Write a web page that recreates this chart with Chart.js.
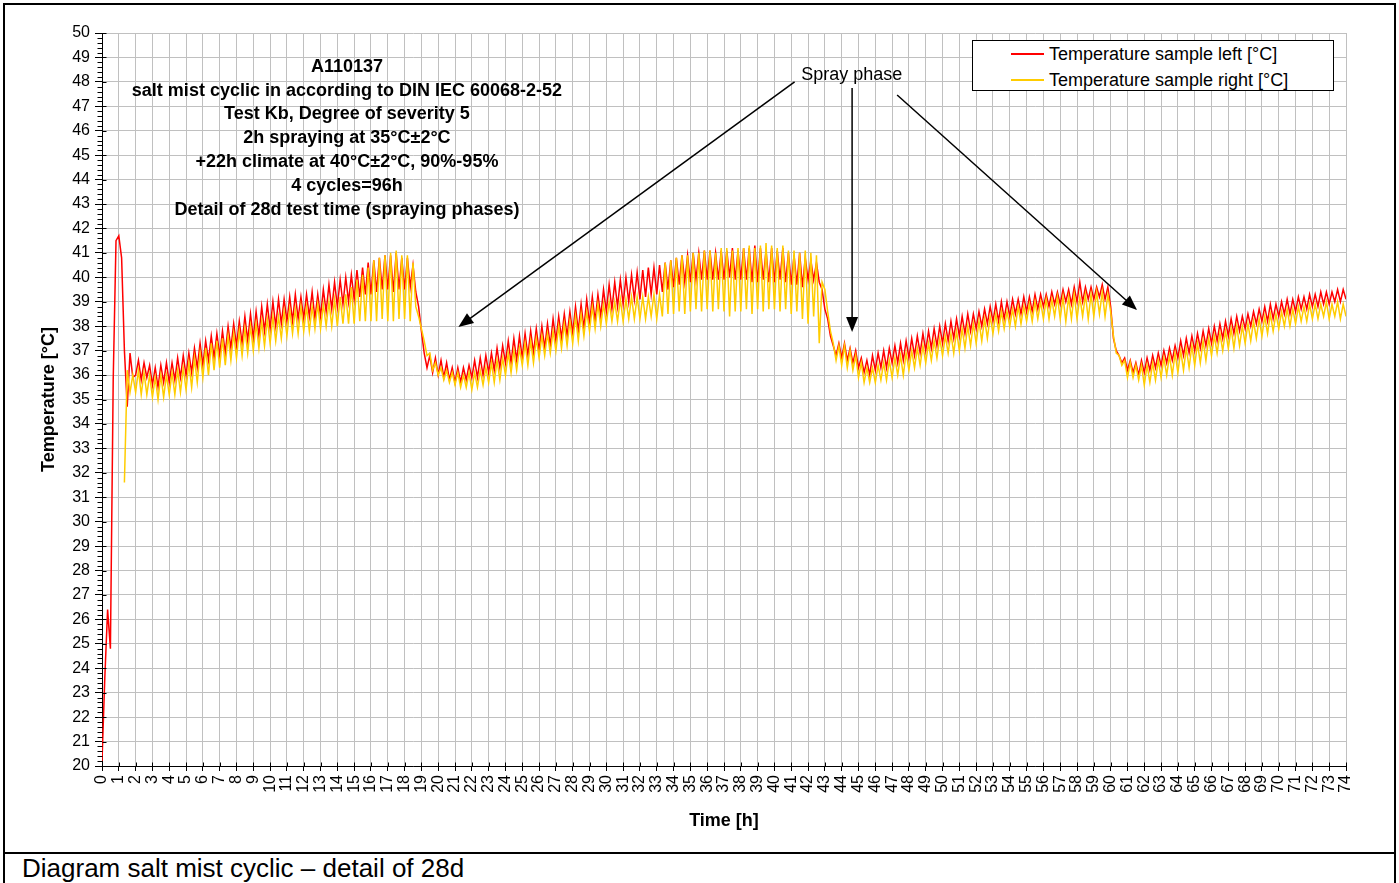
<!DOCTYPE html>
<html>
<head>
<meta charset="utf-8">
<title>Diagram salt mist cyclic – detail of 28d</title>
<script src="https://cdn.jsdelivr.net/npm/chart.js@4.4.1/dist/chart.umd.min.js"></script>
<style>
  html, body { margin: 0; padding: 0; background: #fff; }
  body { width: 1399px; height: 883px; position: relative; overflow: hidden;
         font-family: 'Liberation Sans', Arial, sans-serif; color: #000; }
  #myChart { position: absolute; left: 0; top: 0; }
  .frame { position: absolute; background: #000; z-index: 2; }
  #legend { position: absolute; left: 972px; top: 40px; width: 360px; height: 49px;
            border: 1px solid #000; background: #fff; z-index: 3; font-size: 18px; }
  #legend .row { position: absolute; left: 0; height: 22px; line-height: 22px; white-space: nowrap; }
  #legend .swatch { position: absolute; left: 38px; top: 10px; width: 33px; height: 1.5px; }
  #legend .lbl { position: absolute; left: 76px; top: 0; }
  #caption { position: absolute; left: 22px; top: 853px; font-size: 26px; line-height: 30px; white-space: nowrap; }
</style>
</head>
<body>
<canvas id="myChart" width="1399" height="853"></canvas>
<div class="frame" style="left:3px;top:3px;width:1393px;height:2px"></div>
<div class="frame" style="left:3px;top:3px;width:2px;height:880px"></div>
<div class="frame" style="left:1394px;top:3px;width:2px;height:880px"></div>
<div class="frame" style="left:3px;top:852px;width:1393px;height:2px"></div>
<div id="legend"></div>
<div id="caption">Diagram salt mist cyclic – detail of 28d</div>
<script>
// logger readings every 10 minutes, one line per hour (h0 ... h73, then h74)
const SAMPLES_PER_HOUR = 6;

const tempLeft = [
  20.2, 23.6, 26.4, 24.8, 35.8, 41.5,
  41.7, 40.8, 37.0, 34.7, 36.9, 35.9,
  36.0, 36.6, 35.8, 36.5, 35.9, 36.4,
  35.6, 36.3, 35.5, 36.4, 35.7, 36.5,
  35.7, 36.5, 35.8, 36.7, 35.9, 36.8,
  36.0, 36.9, 36.1, 37.1, 36.3, 37.3,
  36.4, 37.4, 36.6, 37.6, 36.7, 37.7,
  36.8, 37.8, 36.9, 38.0, 37.1, 38.1,
  37.2, 38.2, 37.3, 38.4, 37.4, 38.5,
  37.5, 38.6, 37.6, 38.8, 37.8, 38.9,
  37.9, 39.0, 38.0, 39.1, 38.1, 39.1,
  38.2, 39.2, 38.2, 39.3, 38.3, 39.2,
  38.3, 39.3, 38.4, 39.4, 38.3, 39.3,
  38.4, 39.5, 38.6, 39.7, 38.7, 39.8,
  38.8, 39.9, 38.9, 40.0, 39.0, 40.1,
  39.1, 40.3, 39.2, 40.4, 39.3, 40.6,
  39.3, 40.7, 39.4, 40.8, 39.5, 40.9,
  39.5, 40.9, 39.4, 41.0, 39.5, 40.8,
  39.5, 40.8, 39.6, 40.5, 39.4, 38.8,
  37.8, 36.9, 36.3, 36.8, 36.1, 36.7,
  36.0, 36.6, 35.9, 36.5, 35.8, 36.3,
  35.7, 36.3, 35.7, 36.3, 35.8, 36.4,
  35.9, 36.6, 35.9, 36.7, 36.0, 36.8,
  36.1, 36.9, 36.2, 37.1, 36.3, 37.2,
  36.5, 37.4, 36.5, 37.5, 36.6, 37.6,
  36.7, 37.7, 36.8, 37.8, 36.9, 37.9,
  37.0, 38.0, 37.1, 38.1, 37.2, 38.3,
  37.4, 38.4, 37.5, 38.5, 37.6, 38.6,
  37.7, 38.8, 37.8, 38.9, 37.9, 39.1,
  38.1, 39.2, 38.2, 39.3, 38.4, 39.5,
  38.6, 39.7, 38.7, 39.8, 38.8, 39.9,
  38.9, 40.0, 39.0, 40.1, 39.1, 40.2,
  39.1, 40.3, 39.2, 40.4, 39.3, 40.4,
  39.3, 40.5, 39.4, 40.6, 39.5, 40.7,
  39.6, 40.8, 39.7, 40.9, 39.8, 40.9,
  39.8, 41.0, 39.9, 41.0, 39.9, 41.1,
  39.9, 41.1, 39.9, 41.0, 39.9, 41.1,
  39.9, 41.1, 40.0, 41.2, 39.9, 41.1,
  39.9, 41.2, 39.9, 41.2, 39.8, 41.3,
  39.8, 41.2, 39.9, 41.1, 39.8, 41.2,
  39.8, 41.1, 39.9, 41.2, 39.8, 41.0,
  39.7, 40.9, 39.7, 41.0, 39.6, 40.8,
  39.9, 40.7, 39.9, 40.6, 39.8, 39.5,
  38.7, 38.3, 37.6, 37.2, 36.8, 37.3,
  36.7, 37.3, 36.6, 37.1, 36.5, 37.0,
  36.3, 36.7, 36.1, 36.6, 36.0, 36.8,
  36.2, 36.9, 36.3, 37.0, 36.3, 37.1,
  36.5, 37.2, 36.5, 37.3, 36.6, 37.4,
  36.7, 37.5, 36.8, 37.6, 36.9, 37.7,
  37.0, 37.8, 37.1, 37.9, 37.2, 38.0,
  37.3, 38.1, 37.4, 38.2, 37.5, 38.3,
  37.6, 38.4, 37.7, 38.5, 37.8, 38.5,
  37.9, 38.6, 38.0, 38.7, 38.1, 38.8,
  38.2, 38.9, 38.2, 39.0, 38.3, 39.0,
  38.4, 39.1, 38.5, 39.1, 38.5, 39.2,
  38.6, 39.2, 38.6, 39.3, 38.7, 39.3,
  38.8, 39.3, 38.8, 39.4, 38.9, 39.4,
  38.9, 39.5, 39.0, 39.5, 38.9, 39.6,
  39.0, 39.8, 39.0, 39.6, 39.1, 39.6,
  39.1, 39.6, 39.2, 39.7, 39.1, 39.6,
  38.8, 37.5, 37.0, 36.8, 36.5, 36.7,
  36.2, 36.6, 36.1, 36.5, 36.0, 36.6,
  36.1, 36.7, 36.2, 36.8, 36.3, 36.9,
  36.4, 37.0, 36.5, 37.1, 36.6, 37.2,
  36.7, 37.4, 36.8, 37.5, 36.9, 37.6,
  37.0, 37.7, 37.1, 37.8, 37.2, 37.9,
  37.3, 38.0, 37.4, 38.1, 37.5, 38.2,
  37.6, 38.3, 37.7, 38.4, 37.8, 38.4,
  37.9, 38.5, 38.0, 38.6, 38.1, 38.7,
  38.2, 38.8, 38.2, 38.9, 38.3, 38.9,
  38.4, 39.0, 38.5, 39.1, 38.5, 39.1,
  38.6, 39.2, 38.7, 39.2, 38.7, 39.3,
  38.8, 39.3, 38.8, 39.4, 38.9, 39.4,
  38.9, 39.4, 39.0, 39.5, 39.0, 39.5,
  39.1
];

const tempRight = [
  null, null, null, null, null, null,
  null, null, 31.6, 36.2, 35.3, 36.0,
  35.3, 36.2, 35.2, 36.1, 35.2, 36.0,
  35.1, 35.9, 35.0, 36.0, 35.1, 36.0,
  35.2, 36.1, 35.2, 36.2, 35.3, 36.3,
  35.4, 36.5, 35.5, 36.7, 35.7, 36.9,
  35.9, 37.1, 36.0, 37.3, 36.2, 37.4,
  36.3, 37.5, 36.4, 37.6, 36.6, 37.7,
  36.7, 37.8, 36.8, 37.9, 36.9, 38.0,
  37.0, 38.1, 37.1, 38.2, 37.2, 38.3,
  37.3, 38.4, 37.4, 38.4, 37.5, 38.6,
  37.6, 38.7, 37.7, 38.7, 37.7, 38.8,
  37.8, 38.8, 37.8, 38.8, 37.9, 38.9,
  37.9, 38.9, 38.0, 39.0, 38.0, 39.1,
  38.0, 39.2, 38.1, 39.3, 38.1, 39.6,
  38.1, 39.9, 38.2, 40.1, 38.2, 40.4,
  38.2, 40.7, 38.2, 40.8, 38.3, 40.9,
  38.2, 41.0, 38.2, 41.1, 38.3, 40.9,
  38.3, 40.9, 38.2, 40.6, 38.8, 38.4,
  37.9, 37.4, 36.8, 36.9, 36.2, 36.5,
  36.0, 36.3, 35.8, 36.2, 35.7, 36.1,
  35.6, 36.1, 35.5, 36.0, 35.5, 36.1,
  35.4, 36.1, 35.5, 36.2, 35.6, 36.3,
  35.7, 36.5, 35.7, 36.6, 35.8, 36.7,
  36.0, 36.9, 36.1, 37.0, 36.2, 37.1,
  36.4, 37.3, 36.4, 37.4, 36.5, 37.5,
  36.7, 37.6, 36.8, 37.7, 36.9, 37.8,
  37.0, 38.0, 37.1, 38.1, 37.2, 38.2,
  37.3, 38.4, 37.4, 38.5, 37.6, 38.6,
  37.8, 38.8, 37.9, 38.9, 38.0, 38.9,
  38.1, 39.0, 38.2, 39.0, 38.2, 39.1,
  38.2, 39.1, 38.3, 39.2, 38.3, 39.2,
  38.3, 39.2, 38.3, 39.2, 38.4, 39.3,
  38.3, 39.3, 38.4, 40.6, 38.5, 40.7,
  38.5, 40.8, 38.6, 40.9, 38.5, 40.9,
  38.6, 41.0, 38.7, 41.0, 38.6, 41.1,
  38.7, 41.1, 38.6, 41.0, 38.7, 41.2,
  38.6, 41.2, 38.4, 41.1, 38.6, 41.2,
  38.6, 41.2, 38.7, 41.3, 38.5, 41.2,
  38.7, 41.3, 38.6, 41.4, 38.7, 41.3,
  38.7, 41.2, 38.6, 41.3, 38.7, 41.1,
  38.5, 41.1, 38.6, 41.0, 38.3, 41.1,
  38.1, 41.0, 38.4, 40.9, 37.3, 39.8,
  39.5, 38.6, 37.8, 37.3, 36.6, 37.2,
  36.4, 37.2, 36.3, 37.0, 36.2, 36.8,
  35.9, 36.5, 35.7, 36.3, 35.7, 36.3,
  35.7, 36.4, 35.8, 36.5, 35.8, 36.6,
  35.9, 36.7, 36.0, 36.8, 36.0, 36.9,
  36.2, 37.0, 36.3, 37.1, 36.4, 37.2,
  36.5, 37.3, 36.6, 37.4, 36.7, 37.5,
  36.8, 37.6, 36.9, 37.7, 36.9, 37.8,
  37.0, 37.9, 37.1, 38.0, 37.2, 38.1,
  37.3, 38.2, 37.4, 38.3, 37.5, 38.4,
  37.7, 38.5, 37.8, 38.6, 37.9, 38.6,
  38.0, 38.7, 38.0, 38.8, 38.1, 38.8,
  38.2, 38.9, 38.2, 39.0, 38.3, 39.0,
  38.3, 39.1, 38.3, 39.1, 38.4, 39.2,
  38.3, 39.2, 38.2, 39.2, 38.3, 39.3,
  38.3, 39.2, 38.4, 39.3, 38.3, 39.3,
  38.4, 39.4, 38.5, 39.4, 38.4, 39.3,
  38.6, 37.6, 36.9, 36.8, 36.4, 36.6,
  35.9, 36.5, 35.9, 36.4, 35.8, 36.4,
  35.6, 36.4, 35.7, 36.5, 35.8, 36.6,
  35.9, 36.7, 36.0, 36.8, 36.0, 36.9,
  36.1, 37.0, 36.2, 37.1, 36.3, 37.2,
  36.4, 37.3, 36.5, 37.4, 36.6, 37.5,
  36.8, 37.6, 36.9, 37.7, 37.0, 37.8,
  37.1, 37.9, 37.1, 38.0, 37.2, 38.0,
  37.3, 38.1, 37.4, 38.2, 37.5, 38.3,
  37.6, 38.4, 37.7, 38.5, 37.8, 38.5,
  37.9, 38.6, 38.0, 38.7, 38.0, 38.7,
  38.1, 38.8, 38.2, 38.8, 38.2, 38.9,
  38.3, 38.9, 38.3, 38.9, 38.4, 39.0,
  38.3, 38.9, 38.4, 39.0, 38.3, 38.9,
  38.4
];

// time stamp of every reading in hours
const hours = tempLeft.map((_, i) => i / SAMPLES_PER_HOUR);

const seriesNames = ['Temperature sample left [°C]', 'Temperature sample right [°C]'];
const seriesColors = ['#ff0000', '#ffcc00'];

const titleLines = [
  'A110137',
  'salt mist cyclic in according to DIN IEC 60068-2-52',
  'Test Kb, Degree of severity 5',
  '2h spraying at 35°C±2°C',
  '+22h climate at 40°C±2°C, 90%-95%',
  '4 cycles=96h',
  'Detail of 28d test time (spraying phases)'
];
const titleAnchor = { x: 14.57, y: 48.62, step: 0.975 }; // hours / °C

const sprayLabel = { text: 'Spray phase', x: 44.6, y: 48.28 };
// arrows: [tail h, tail °C, head h, head °C]
const sprayArrows = [
  [41.2, 48.0, 21.2, 37.97],
  [44.62, 47.75, 44.62, 37.76],
  [47.3, 47.46, 61.57, 38.66]
];

const FONT = "'Liberation Sans', Arial, sans-serif";

function drawArrow(ctx, x1, y1, x2, y2) {
  const ang = Math.atan2(y2 - y1, x2 - x1);
  const len = 15, half = 6;
  ctx.beginPath();
  ctx.moveTo(x1, y1);
  ctx.lineTo(x2 - Math.cos(ang) * len * 0.8, y2 - Math.sin(ang) * len * 0.8);
  ctx.stroke();
  ctx.beginPath();
  ctx.moveTo(x2, y2);
  ctx.lineTo(x2 - Math.cos(ang) * len + Math.sin(ang) * half, y2 - Math.sin(ang) * len - Math.cos(ang) * half);
  ctx.lineTo(x2 - Math.cos(ang) * len - Math.sin(ang) * half, y2 - Math.sin(ang) * len + Math.cos(ang) * half);
  ctx.closePath();
  ctx.fill();
}

const extras = {
  id: 'extras',
  afterDraw(chart) {
    const { ctx, scales: { x, y } } = chart;
    ctx.save();
    ctx.strokeStyle = '#000';
    ctx.fillStyle = '#000';
    ctx.lineWidth = 1;

    // minor ticks on the temperature axis + inner part of the major ticks
    const ax = Math.round(x.left) + 0.5;
    for (let i = 0; i <= (y.max - y.min) * 5; i++) {
      const py = Math.round(y.getPixelForValue(y.min + i * 0.2)) + 0.5;
      ctx.beginPath();
      if (i % 5 === 0) { ctx.moveTo(ax, py); ctx.lineTo(ax + 4, py); }
      else { ctx.moveTo(ax - 5, py); ctx.lineTo(ax, py); }
      ctx.stroke();
    }
    // inner part of the time ticks
    const ay = Math.round(y.bottom) + 0.5;
    for (let h = x.min; h <= x.max; h++) {
      const px = Math.round(x.getPixelForValue(h)) + 0.5;
      ctx.beginPath(); ctx.moveTo(px, ay - 4); ctx.lineTo(px, ay); ctx.stroke();
    }

    // text block
    ctx.font = 'bold 18px ' + FONT;
    ctx.textAlign = 'center';
    ctx.textBaseline = 'middle';
    titleLines.forEach((line, i) => {
      ctx.fillText(line, x.getPixelForValue(titleAnchor.x), y.getPixelForValue(titleAnchor.y - i * titleAnchor.step));
    });

    // spray phase arrows
    ctx.font = '18px ' + FONT;
    ctx.fillText(sprayLabel.text, x.getPixelForValue(sprayLabel.x), y.getPixelForValue(sprayLabel.y));
    ctx.lineWidth = 1.5;
    sprayArrows.forEach(a => {
      drawArrow(ctx, x.getPixelForValue(a[0]), y.getPixelForValue(a[1]),
                x.getPixelForValue(a[2]), y.getPixelForValue(a[3]));
    });
    ctx.restore();
  }
};

const chartCanvas = document.getElementById('myChart').getContext('2d');

const chart = new Chart(chartCanvas, {
  type: 'line',
  data: {
    labels: hours,
    datasets: [
      { label: seriesNames[0], data: tempLeft, borderColor: seriesColors[0], borderWidth: 1.5, order: 1 },
      { label: seriesNames[1], data: tempRight, borderColor: seriesColors[1], borderWidth: 1.5, order: 0 }
    ]
  },
  options: {
    responsive: false,
    animation: false,
    devicePixelRatio: 1,
    spanGaps: false,
    elements: { point: { radius: 0 }, line: { tension: 0 } },
    layout: { padding: { left: 0, top: 33, right: 53, bottom: 0 } },
    plugins: { legend: { display: false }, tooltip: { enabled: false } },
    scales: {
      x: {
        type: 'linear',
        min: 0, max: 74,
        ticks: { stepSize: 1, autoSkip: false, minRotation: 90, maxRotation: 90, padding: 4,
                 color: '#000', font: { family: FONT, size: 16 } },
        grid: { color: '#c0c0c0', lineWidth: 1, tickColor: '#000', tickLength: 5 },
        border: { color: '#000', width: 1 },
        title: { display: true, text: 'Time [h]', color: '#000',
                 font: { family: FONT, size: 18, weight: 'bold' }, padding: { top: 0, bottom: 21 } },
        afterFit: s => { s.height = 87; }
      },
      y: {
        min: 20, max: 50,
        ticks: { stepSize: 1, autoSkip: false, padding: 5, color: '#000', font: { family: FONT, size: 16 } },
        grid: { color: '#c0c0c0', lineWidth: 1, tickColor: '#000', tickLength: 7 },
        border: { color: '#000', width: 1 },
        title: { display: true, text: 'Temperature [°C]', color: '#000',
                 font: { family: FONT, size: 18, weight: 'bold' }, padding: { top: 38, bottom: 0 } },
        afterFit: s => { s.width = 102; }
      }
    }
  },
  plugins: [extras]
});

// legend box built from the datasets
const legendEl = document.getElementById('legend');
chart.data.datasets.forEach((ds, i) => {
  const row = document.createElement('div');
  row.className = 'row';
  row.style.top = (2 + i * 26) + 'px';
  row.innerHTML = `<span class="swatch" style="background:${ds.borderColor}"></span><span class="lbl">${ds.label}</span>`;
  legendEl.appendChild(row);
});
</script>
</body>
</html>
